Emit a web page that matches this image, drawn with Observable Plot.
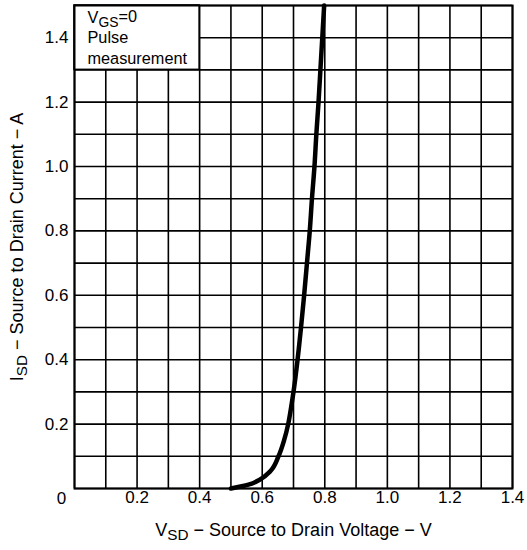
<!DOCTYPE html>
<html>
<head>
<meta charset="utf-8">
<script src="https://cdn.jsdelivr.net/npm/d3@7"></script>
<script src="https://cdn.jsdelivr.net/npm/@observablehq/plot@0.6"></script>
<style>
  body { margin: 0; background: white; }
</style>
</head>
<body>
<div id="chart"></div>
<script>
// Curve: source-to-drain voltage (V) vs source-to-drain current (A)
const vsd = [0.50, 0.556, 0.593, 0.626, 0.652, 0.670, 0.683, 0.692, 0.700, 0.713, 0.724, 0.734, 0.743, 0.752, 0.759, 0.767, 0.773, 0.780, 0.786, 0.792, 0.798];
const isd = [0.00, 0.012, 0.028, 0.054, 0.10, 0.15, 0.20, 0.25, 0.30, 0.40, 0.50, 0.60, 0.70, 0.80, 0.90, 1.00, 1.10, 1.20, 1.30, 1.40, 1.50];

const gridX = [0, 0.1, 0.2, 0.3, 0.4, 0.5, 0.6, 0.7, 0.8, 0.9, 1.0, 1.1, 1.2, 1.3, 1.4];
const gridY = [0, 0.1, 0.2, 0.3, 0.4, 0.5, 0.6, 0.7, 0.8, 0.9, 1.0, 1.1, 1.2, 1.3, 1.4, 1.5];
const xTicks = [0.2, 0.4, 0.6, 0.8, 1.0, 1.2, 1.4];
const yTicks = [0.2, 0.4, 0.6, 0.8, 1.0, 1.2, 1.4];
const originLabel = ["0"];
const legendLines = ["VGS=0", "Pulse", "measurement"];
const xTitle = "VSD − Source to Drain Voltage − V";
const yTitle = "ISD − Source to Drain Current − A";

const data = vsd.map((v, i) => ({v, i: isd[i]}));

const chart = Plot.plot({
  width: 527,
  height: 550,
  marginLeft: 74,
  marginRight: 15,
  marginTop: 5,
  marginBottom: 62,
  x: {domain: [0, 1.4]},
  y: {domain: [0, 1.5]},
  style: {fontFamily: "'Liberation Sans', Arial, sans-serif", fontSize: "17px", background: "white", color: "black"},
  marks: [
    Plot.ruleX(gridX, {stroke: "black", strokeWidth: 1.6}),
    Plot.ruleY(gridY, {stroke: "black", strokeWidth: 1.6}),
    Plot.rect([0], {x1: 0, x2: 0.4, y1: 1.3, y2: 1.5, fill: "white", stroke: "black", strokeWidth: 1.6}),
    Plot.text([legendLines.join("\n")], {x: 0, y: 1.5, dx: 13, dy: 3, textAnchor: "start", lineAnchor: "top", lineHeight: 1.26, fontSize: 16.3}),
    Plot.frame({stroke: "black", strokeWidth: 2}),
    Plot.line(data, {x: "v", y: "i", curve: "monotone-y", stroke: "black", strokeWidth: 4.5}),
    Plot.axisX(xTicks, {tickSize: 0, tickPadding: 2, tickFormat: d => d.toFixed(1), label: null, fontSize: 17}),
    Plot.axisY(yTicks, {tickSize: 0, tickPadding: 6, tickFormat: d => d.toFixed(1), label: null, fontSize: 17}),
    Plot.text(originLabel, {x: 0, y: 0, dx: -13, dy: 10, textAnchor: "middle", fontSize: 17}),
    Plot.text([xTitle], {frameAnchor: "bottom", dy: 42, textAnchor: "middle", lineAnchor: "middle", fontSize: 18}),
    Plot.text([yTitle], {frameAnchor: "left", dx: -57, rotate: -90, textAnchor: "middle", lineAnchor: "middle", fontSize: 18})
  ]
});

function subscript(svg, full, main, sub, rest) {
  d3.select(svg).selectAll("text, tspan")
    .filter(function() { return this.childElementCount === 0 && this.textContent === full; })
    .each(function() {
      const el = d3.select(this);
      el.text(null);
      el.append("tspan").text(main);
      el.append("tspan").attr("font-size", "0.85em").attr("dy", "0.25em").text(sub);
      el.append("tspan").attr("dy", "-0.25em").text(rest);
    });
}
subscript(chart, xTitle, "V", "SD", " − Source to Drain Voltage − V");
subscript(chart, yTitle, "I", "SD", " − Source to Drain Current − A");
subscript(chart, "VGS=0", "V", "GS", "=0");

document.getElementById("chart").appendChild(chart);
</script>
</body>
</html>
